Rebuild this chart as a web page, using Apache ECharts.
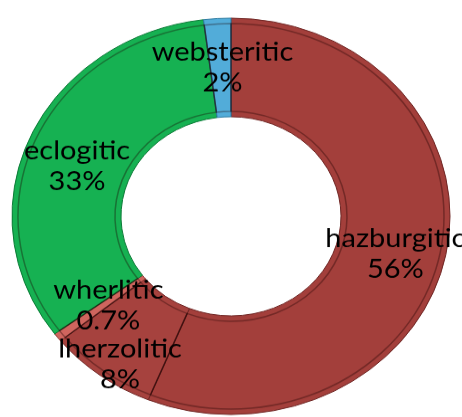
<!DOCTYPE html>
<html>
<head>
<meta charset="utf-8">
<script src="https://cdn.jsdelivr.net/npm/echarts@6/dist/echarts.min.js"></script>
<style>
  html, body { margin: 0; padding: 0; background: #fff; overflow: hidden; }
  #wrap { width: 462px; height: 417px; overflow: hidden; }
  /* the ring is drawn slightly flattened vertically */
  #chart { width: 462px; height: 461px; transform: scaleY(0.905); transform-origin: 0 0; }
</style>
</head>
<body>
<div id="wrap"><div id="chart"></div></div>
<script>
// Garnet inclusion parageneses, share in %
const categories = ['hazburgitic', 'lherzolitic', 'wherlitic', 'eclogitic', 'websteritic'];
const shares = [56, 8, 0.7, 33, 2];
const shareLabels = ['56%', '8%', '0.7%', '33%', '2%'];
const sliceColors = ['#a33f3b', '#a6423e', '#cf655e', '#16b152', '#52acd9'];
const edgeColors = ['#6e2523', '#6e2523', '#8a3631', '#0b7a36', '#2c7aa0'];

// extra nudges for labels that would collide
const labelShift = {
  hazburgitic: [0, 9],
  lherzolitic: [-11, 29],
  wherlitic: [10, -4],
  eclogitic: [0, 11],
  websteritic: [2, 3]
};

const pieData = categories.map((name, i) => ({
  name: name,
  value: shares[i],
  itemStyle: { color: sliceColors[i], borderColor: edgeColors[i], borderWidth: 1 }
}));

// inset outline giving each slice a bevelled edge
const bevelData = categories.map((name, i) => ({
  name: name,
  value: shares[i],
  itemStyle: { color: 'rgba(0,0,0,0)', borderColor: 'rgba(30,0,0,0.35)', borderWidth: 1.5 }
}));

const chart = echarts.init(document.getElementById('chart'), null, { renderer: 'canvas' });
chart.setOption({
  animation: false,
  series: [
    {
      type: 'pie',
      center: [231, 239],
      radius: [110, 219],
      startAngle: 90,
      clockwise: true,
      avoidLabelOverlap: false,
      z: 2,
      data: pieData,
      label: {
        show: true,
        position: 'inside',
        formatter: p => p.name + '\n' + shareLabels[p.dataIndex],
        color: '#000',
        fontFamily: 'Lato',
        fontSize: 29,
        lineHeight: 34
      },
      labelLayout: function (params) {
        const s = labelShift[categories[params.dataIndex]];
        return s ? { dx: s[0], dy: s[1] } : {};
      },
      emphasis: { disabled: true }
    },
    {
      type: 'pie',
      silent: true,
      center: [231, 239],
      radius: [116, 213],
      startAngle: 90,
      clockwise: true,
      z: 3,
      data: bevelData,
      label: { show: false },
      labelLine: { show: false },
      emphasis: { disabled: true }
    }
  ]
});
</script>
</body>
</html>
